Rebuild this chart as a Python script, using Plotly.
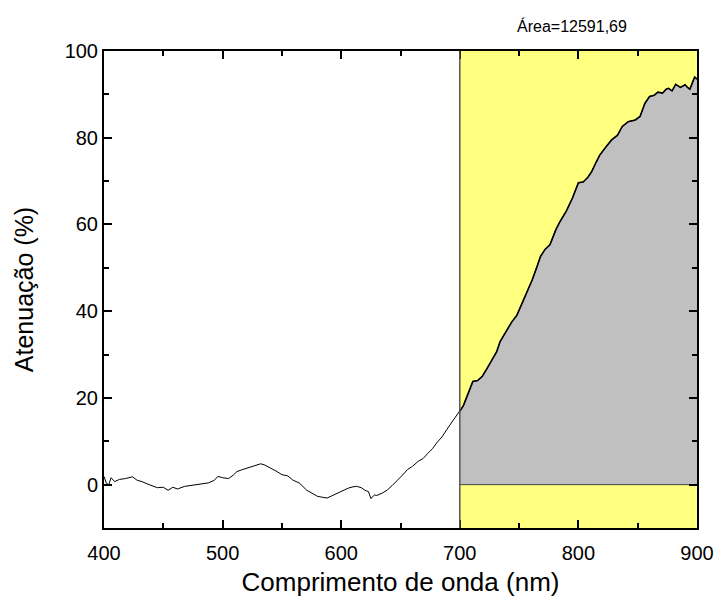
import plotly.graph_objects as go

# Wavelength (nm) and attenuation (%)
wavelength = [400, 402, 404, 406, 409, 413, 418, 424, 428, 432, 438, 445, 450, 454, 458, 462, 468,
              474, 480, 488, 493, 496, 500, 505, 509, 512, 516, 521, 526, 532, 535, 538, 542, 546,
              550, 555, 559, 565, 571, 576, 580, 584, 588, 592, 597, 602, 606, 610, 613, 617, 620,
              623, 625, 628, 630, 635, 639, 643, 647, 651, 656, 660, 665, 669, 673, 677, 681, 685,
              689, 694, 700, 703, 705, 708, 711, 715, 719, 723, 727, 731, 734, 739, 744, 748, 751,
              756, 761, 765, 768, 772, 776, 781, 784, 790, 795, 800, 804, 808, 811, 815, 818, 823,
              828, 833, 837, 842, 848, 852, 856, 860, 864, 867, 871, 874, 876, 879, 882, 886, 888,
              890, 892, 894, 896, 898, 900]
attenuation = [1.9, 0.3, 0.0, 1.6, 0.7, 1.2, 1.4, 1.8, 1.0, 0.7, 0.0, -0.7, -0.6, -1.3, -0.6, -1.0, -0.4,
               -0.2, 0.1, 0.4, 1.0, 1.9, 1.6, 1.4, 2.2, 3.0, 3.4, 3.8, 4.2, 4.8, 4.6, 4.2, 3.6, 3.0,
               2.3, 2.0, 1.1, 0.3, -1.3, -2.0, -2.7, -2.9, -3.1, -2.6, -1.9, -1.2, -0.8, -0.5, -0.4, -0.7, -1.3,
               -1.6, -3.2, -2.4, -2.5, -1.9, -1.2, -0.2, 0.8, 2.0, 3.5, 4.2, 5.4, 6.0, 7.2, 8.3, 9.8, 11.0,
               12.7, 14.6, 16.9, 18.2, 19.6, 21.8, 23.8, 24.0, 25.0, 26.8, 28.8, 30.6, 33.0, 35.2, 37.6, 39.0, 40.8,
               43.8, 47.2, 50.2, 52.6, 54.3, 55.3, 58.8, 60.4, 63.2, 66.1, 69.6, 69.8, 70.9, 72.1, 74.4, 76.0, 77.8,
               79.5, 80.6, 82.6, 83.7, 84.1, 84.9, 87.9, 89.5, 89.8, 90.5, 90.3, 91.2, 91.4, 90.8, 92.3, 91.6, 92.0,
               92.2, 91.6, 91.2, 92.6, 94.0, 93.5]

area_label = "Área=12591,69"
x_title = "Comprimento de onda (nm)"
y_title = "Atenuação (%)"
x_lo, x_hi = 700, 900

seg_x = [w for w in wavelength if x_lo <= w <= x_hi]
seg_y = [a for w, a in zip(wavelength, attenuation) if x_lo <= w <= x_hi]

FONT = "Liberation Sans"

fig = go.Figure()

# gray integrated area
fig.add_trace(go.Scatter(x=seg_x, y=seg_y, mode="lines", fill="tozeroy",
                         fillcolor="#C0C0C0", line=dict(color="rgba(0,0,0,0)", width=0),
                         hoverinfo="skip", showlegend=False))
# baseline at zero inside region
fig.add_trace(go.Scatter(x=[x_lo, x_hi], y=[0, 0], mode="lines",
                         line=dict(color="#444444", width=1), showlegend=False))
# full spectrum
fig.add_trace(go.Scatter(x=wavelength, y=attenuation, mode="lines",
                         line=dict(color="black", width=1), showlegend=False))
# emphasised segment
fig.add_trace(go.Scatter(x=seg_x, y=seg_y, mode="lines",
                         line=dict(color="black", width=1.6), showlegend=False))

fig.add_shape(type="rect", xref="x", yref="y", x0=x_lo, x1=x_hi, y0=-10, y1=100,
              fillcolor="#FFFF80", line=dict(width=0), layer="below")
fig.add_shape(type="line", xref="x", yref="y", x0=x_lo, x1=x_lo, y0=-10, y1=100,
              line=dict(color="#555555", width=1.5), layer="above")

fig.add_annotation(text=area_label, xref="paper", yref="paper", x=0.79, y=1.052,
                   xanchor="center", yanchor="middle",
                   showarrow=False, font=dict(size=16, color="black", family=FONT))

axis_common = dict(showline=True, linecolor="black", linewidth=2, mirror="ticks",
                   ticks="inside", ticklen=8, tickwidth=2, tickcolor="black",
                   showgrid=False, zeroline=False,
                   tickfont=dict(size=20, color="black", family=FONT))

fig.update_xaxes(range=[400, 900], dtick=100, tick0=400, ticklabelstandoff=6,
                 minor=dict(dtick=50, ticks="inside", ticklen=5, tickwidth=2, tickcolor="black", showgrid=False),
                 title=dict(text=x_title, font=dict(size=26, color="black", family=FONT), standoff=10),
                 **axis_common)
fig.update_yaxes(range=[-10, 100], dtick=20, tick0=0,
                 minor=dict(dtick=10, ticks="inside", ticklen=5, tickwidth=2, tickcolor="black", showgrid=False),
                 title=dict(text=y_title, font=dict(size=25, color="black", family=FONT), standoff=24),
                 **axis_common)

fig.update_layout(width=716, height=599, margin=dict(l=104, r=19, t=51, b=71, autoexpand=False),
                  plot_bgcolor="white", paper_bgcolor="white",
                  font=dict(family=FONT, color="black"))

fig.write_html("out.html", config={"displayModeBar": False},
               post_script="document.body.style.margin='0';document.body.style.overflow='hidden';")
